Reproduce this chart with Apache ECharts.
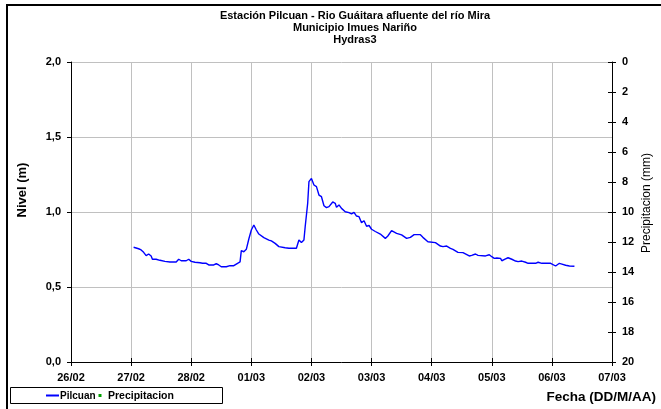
<!DOCTYPE html>
<html>
<head>
<meta charset="utf-8">
<script src="https://cdn.jsdelivr.net/npm/echarts@6/dist/echarts.min.js"></script>
<style>
  html, body { margin: 0; padding: 0; background: #fff; }
  #chart { width: 661px; height: 409px; }
</style>
</head>
<body>
<div id="chart"></div>
<script>
// Time axis: hours counted from 26/02 00:00, one tick per day
const dayLabels = ['26/02', '27/02', '28/02', '01/03', '02/03', '03/03', '04/03', '05/03', '06/03', '07/03'];

// Pilcuan water level (m) sampled along the record
const hours = [
  25, 27, 28, 29, 30, 31, 32, 32.5, 33, 34, 35.5, 37.5, 38, 39.5, 42, 43, 44, 46, 47, 48,
  49.5, 51.5, 52.5, 54, 55, 57, 58, 59, 60, 62, 63.5, 65, 65.5, 66.5, 67.5, 68, 69, 70, 71, 72,
  73, 74, 75, 77, 79, 80, 81.5, 83, 85.5, 87, 90, 91, 92, 93, 93.5, 94.5, 95, 96, 97, 98,
  99, 100, 101, 102, 103, 104.5, 105.5, 106, 107, 108, 109.5, 111, 112, 113, 114, 115, 116, 117, 118, 119,
  120, 121.5, 123.5, 125.5, 126.5, 128, 130, 132, 134, 135.5, 137, 139.5, 140.5, 142.5, 145.5, 147.5, 148.5, 150, 151.5, 152.5,
  154.5, 156.5, 159, 160, 161.5, 162.5, 165.5, 166, 167, 168, 169, 170, 170.5, 171.5, 172, 173.5, 174.5, 176, 177.5, 178.5,
  180, 181.5, 182.5, 185.5, 186.5, 188, 191.5, 192, 193.5, 195, 196, 197.5, 199, 201
];
const nivel = [
  0.765, 0.755, 0.747, 0.731, 0.709, 0.72, 0.707, 0.685, 0.695, 0.685, 0.678, 0.671, 0.662, 0.667, 0.667, 0.685, 0.675, 0.675, 0.685, 0.671,
  0.665, 0.662, 0.658, 0.658, 0.647, 0.647, 0.655, 0.647, 0.635, 0.635, 0.642, 0.642, 0.635, 0.658, 0.667, 0.742, 0.735, 0.751, 0.82, 0.88,
  0.913, 0.88, 0.853, 0.829, 0.813, 0.807, 0.791, 0.769, 0.762, 0.758, 0.758, 0.813, 0.796, 0.813, 0.902, 1.058, 1.202, 1.224, 1.18, 1.169,
  1.113, 1.102, 1.042, 1.029, 1.036, 1.067, 1.058, 1.031, 1.047, 1.024, 1.002, 0.996, 0.987, 0.998, 0.973, 0.969, 0.929, 0.942, 0.905, 0.91,
  0.885, 0.87, 0.853, 0.824, 0.84, 0.876, 0.858, 0.847, 0.824, 0.831, 0.849, 0.849, 0.831, 0.802, 0.796, 0.773, 0.769, 0.773, 0.758, 0.751,
  0.731, 0.729, 0.707, 0.711, 0.72, 0.711, 0.707, 0.702, 0.715, 0.702, 0.691, 0.693, 0.68, 0.691, 0.675, 0.687, 0.695, 0.685, 0.673, 0.669,
  0.673, 0.665, 0.658, 0.658, 0.665, 0.658, 0.658, 0.649, 0.64, 0.658, 0.653, 0.645, 0.64, 0.638
];

// Precipitation (mm): no readings in this period
const precipitacion = [];

const FONT = '"Liberation Sans", Arial, sans-serif';
const GRID_GRAY = '#c0c0c0';
const PLOT = { left: 71, right: 49, top: 62, bottom: 47 };

const chart = echarts.init(document.getElementById('chart'), null, { renderer: 'canvas' });

const boldLabel = { color: '#000', fontFamily: FONT, fontWeight: 'bold', fontSize: 11 };
const tickStyle = { color: '#000', width: 1 };

chart.setOption({
  animation: false,
  backgroundColor: '#fff',
  title: {
    text: 'Estación Pilcuan - Rio Guáitara afluente del río Mira\nMunicipio Imues Nariño\nHydras3',
    left: 350,
    top: 5,
    textAlign: 'center',
    textStyle: { fontFamily: FONT, fontWeight: 'bold', fontSize: 11, lineHeight: 12, color: '#000' }
  },
  // second grid shares the plot rectangle; its axes only add the inward half of the crossing ticks
  grid: [Object.assign({}, PLOT), Object.assign({}, PLOT)],
  xAxis: [
    {
      type: 'value', gridIndex: 0, min: 0, max: 216, interval: 24, position: 'bottom',
      axisLine: { onZero: false, lineStyle: { color: '#000', width: 1 } },
      axisTick: { show: true, length: 4, lineStyle: tickStyle },
      axisLabel: Object.assign({ margin: 10, formatter: v => dayLabels[Math.round(v / 24)] }, boldLabel),
      splitLine: { show: true, lineStyle: { color: GRID_GRAY, width: 1 } }
    },
    {
      type: 'value', gridIndex: 1, min: 0, max: 216, interval: 24, position: 'bottom',
      axisLine: { show: false, onZero: false },
      axisTick: { show: true, inside: true, length: 4, lineStyle: tickStyle },
      axisLabel: { show: false },
      splitLine: { show: false }
    }
  ],
  yAxis: [
    {
      type: 'value', gridIndex: 0, min: 0, max: 2, interval: 0.5, position: 'left',
      axisLine: { show: true, onZero: false, lineStyle: { color: '#000', width: 1 } },
      axisTick: { show: true, length: 4, lineStyle: tickStyle },
      axisLabel: Object.assign({ margin: 10, formatter: v => v.toFixed(1).replace('.', ',') }, boldLabel),
      splitLine: { show: true, lineStyle: { color: GRID_GRAY, width: 1 } }
    },
    {
      type: 'value', gridIndex: 0, min: 0, max: 20, interval: 2, position: 'right', inverse: true,
      axisLine: { show: true, onZero: false, lineStyle: { color: '#000', width: 1 } },
      axisTick: { show: true, length: 4, lineStyle: tickStyle },
      axisLabel: Object.assign({ margin: 10 }, boldLabel),
      splitLine: { show: false }
    },
    {
      type: 'value', gridIndex: 1, min: 0, max: 20, interval: 2, position: 'right', inverse: true,
      axisLine: { show: false, onZero: false },
      axisTick: { show: true, inside: true, length: 4, lineStyle: tickStyle },
      axisLabel: { show: false },
      splitLine: { show: false }
    }
  ],
  series: [
    {
      name: 'Pilcuan',
      type: 'line',
      xAxisIndex: 0, yAxisIndex: 0,
      data: hours.map((h, i) => [h, nivel[i]]),
      showSymbol: false,
      lineStyle: { color: '#0000ff', width: 1.4 },
      itemStyle: { color: '#0000ff' },
      z: 5
    },
    {
      name: 'Precipitacion',
      type: 'scatter',
      xAxisIndex: 0, yAxisIndex: 1,
      data: precipitacion,
      symbol: 'rect', symbolSize: 3,
      itemStyle: { color: '#00a000' }
    },
    {
      // empty series that binds the tick-only axes of the second grid
      type: 'line', xAxisIndex: 1, yAxisIndex: 2, data: [], silent: true
    }
  ],
  graphic: [
    // outer frame
    { type: 'rect', shape: { x: 7, y: 5, width: 700, height: 450 }, style: { fill: 'none', stroke: '#000', lineWidth: 2 }, silent: true, z: 100 },
    // axis titles
    { type: 'text', x: 22, y: 190, rotation: Math.PI / 2, style: { text: 'Nivel (m)', fill: '#000', font: 'bold 13px ' + FONT, textAlign: 'center', textVerticalAlign: 'middle' }, z: 100 },
    { type: 'text', x: 647, y: 203, rotation: Math.PI / 2, style: { text: 'Precipitacion (mm)', fill: '#000', font: '12px ' + FONT, textAlign: 'center', textVerticalAlign: 'middle' }, z: 100 },
    { type: 'text', x: 656, y: 397, style: { text: 'Fecha (DD/M/AA)', fill: '#000', font: 'bold 13.5px ' + FONT, textAlign: 'right', textVerticalAlign: 'middle' }, z: 100 },
    // legend box
    { type: 'rect', shape: { x: 10.5, y: 387.5, width: 212, height: 16 }, style: { fill: '#fff', stroke: '#000', lineWidth: 1 }, z: 100 },
    { type: 'line', shape: { x1: 46, y1: 395.5, x2: 59, y2: 395.5 }, style: { stroke: '#0000ff', lineWidth: 2 }, z: 101 },
    { type: 'text', x: 60, y: 396, style: { text: 'Pilcuan', fill: '#000', font: 'bold 10px ' + FONT, textVerticalAlign: 'middle' }, z: 101 },
    { type: 'rect', shape: { x: 98.5, y: 394, width: 3, height: 3 }, style: { fill: '#00a000' }, z: 101 },
    { type: 'text', x: 108, y: 396, style: { text: 'Precipitacion', fill: '#000', font: 'bold 10.5px ' + FONT, textVerticalAlign: 'middle' }, z: 101 }
  ]
});
</script>
</body>
</html>
